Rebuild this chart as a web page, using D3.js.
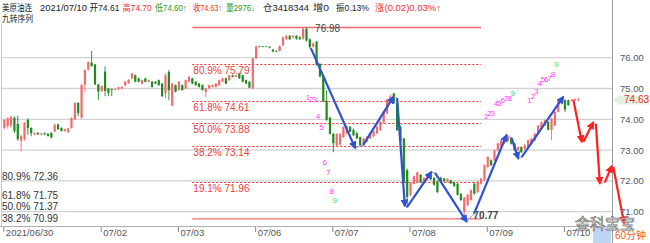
<!DOCTYPE html>
<html>
<head>
<meta charset="utf-8">
<script src="https://cdn.jsdelivr.net/npm/d3@7"></script>
<style>
  body { margin: 0; background: #fff; }
  svg { display: block; font-family: "Liberation Sans", Arial, "Noto Sans CJK SC", sans-serif; }
</style>
</head>
<body>
<div id="chart"></div>
<script>
//// data (60 minute bars)
var opens = [73.72,73.78,73.80,74.05,73.85,73.30,73.36,73.98,73.72,73.52,73.56,73.50,73.55,73.53,73.56,73.60,73.83,73.72,73.62,73.58,
  73.72,74.00,74.53,74.05,75.12,75.62,75.84,75.78,75.13,74.92,75.55,75.00,74.98,74.96,74.98,75.00,75.10,75.18,75.33,75.43,
  75.33,75.16,75.33,75.22,75.22,75.22,75.27,75.16,74.84,75.54,74.45,75.11,74.95,75.11,75.00,75.22,75.33,75.22,75.16,75.11,
  74.89,75.00,75.05,75.05,75.11,75.22,75.33,75.27,75.43,75.38,75.49,75.43,75.27,75.22,75.00,75.98,76.37,76.37,76.37,76.36,
  76.26,76.22,76.22,76.40,76.60,76.71,76.66,76.71,76.66,76.62,76.94,76.60,76.36,76.52,75.80,75.43,74.60,74.05,73.53,73.15,
  73.18,73.42,73.55,73.76,73.66,73.55,73.42,73.15,73.27,73.38,73.45,73.54,73.65,73.90,74.20,74.58,74.84,74.52,73.76,73.38,
  72.35,71.55,71.90,71.95,72.20,71.95,72.05,72.20,72.10,71.98,72.10,72.08,71.97,72.02,71.95,71.90,71.58,71.00,71.22,71.38,
  71.91,71.64,71.91,72.02,72.45,72.67,72.67,73.00,73.12,73.22,73.32,73.40,73.21,72.99,73.10,73.04,73.10,73.21,73.32,73.53,
  73.70,73.80,73.91,73.66,73.80,74.24,74.51,74.62,74.62,74.60,74.62,74.61];
var highs = [74.00,74.06,74.12,74.10,74.12,73.50,73.92,74.04,73.74,73.58,73.58,73.56,73.57,73.56,73.58,73.85,73.86,73.74,73.70,73.72,
  74.06,74.55,74.56,75.14,75.62,75.88,76.22,75.80,75.15,75.10,75.72,75.02,75.00,75.00,75.06,75.07,75.24,75.30,75.51,75.45,
  75.35,75.29,75.35,75.29,75.24,75.24,75.29,75.18,75.49,75.60,75.18,75.13,75.24,75.13,75.29,75.40,75.35,75.24,75.18,75.13,
  75.02,75.13,75.13,75.18,75.29,75.35,75.35,75.45,75.45,75.45,75.51,75.45,75.29,75.24,76.00,76.40,76.39,76.38,76.38,76.37,
  76.28,76.24,76.40,76.70,76.74,76.74,76.74,76.73,76.70,76.98,76.98,76.62,76.50,76.54,75.82,75.45,74.95,74.08,73.56,73.55,
  73.56,73.77,73.80,73.78,73.70,73.58,73.44,73.40,73.46,73.58,73.64,73.80,73.95,74.28,74.66,74.80,74.85,74.54,73.80,73.40,
  72.40,71.96,72.18,72.30,72.22,72.12,72.24,72.24,72.12,72.02,72.14,72.10,72.08,72.04,71.98,71.93,71.60,71.48,71.58,71.72,
  71.95,72.00,72.10,72.53,72.80,72.70,73.02,73.24,73.35,73.44,73.48,73.43,73.24,73.12,73.12,73.20,73.34,73.40,73.56,73.82,
  73.94,73.99,73.94,74.04,74.26,74.64,74.70,74.65,74.64,74.66,74.68,74.70];
var lows = [73.68,73.70,73.72,73.55,73.30,72.96,73.30,73.50,73.45,73.48,73.49,73.47,73.48,73.44,73.38,73.58,73.66,73.60,73.60,73.55,
  73.70,73.98,74.10,74.02,74.90,75.58,75.70,75.12,74.63,74.88,74.75,74.75,74.75,74.94,74.96,74.98,75.08,75.15,75.30,75.20,
  75.20,75.14,75.20,75.20,75.03,75.14,75.09,74.73,74.68,74.62,74.42,74.87,74.93,74.93,74.98,75.20,75.14,75.09,75.03,74.93,
  74.73,74.98,75.03,75.03,75.09,75.20,75.14,75.25,75.36,75.36,75.31,75.20,75.14,75.01,74.98,75.96,76.34,76.35,76.35,76.30,
  76.18,76.18,76.20,76.38,76.58,76.58,76.62,76.58,76.58,76.58,76.52,76.30,76.33,75.74,75.36,74.55,73.95,73.50,72.93,73.10,
  73.14,73.40,73.52,73.58,73.46,73.36,73.12,73.12,73.25,73.36,73.42,73.52,73.62,73.85,74.15,74.55,74.50,73.62,73.22,71.95,
  71.15,71.50,71.88,71.92,71.93,71.92,72.02,72.02,71.85,71.60,71.95,71.97,71.95,71.90,71.80,71.52,71.35,70.77,71.18,71.35,
  71.55,71.60,71.88,72.00,72.40,72.49,72.65,72.95,73.08,73.20,73.28,73.18,72.97,72.96,72.91,73.00,73.08,73.18,73.28,73.50,
  73.68,73.78,73.64,73.32,73.78,74.22,74.48,74.24,74.44,74.58,74.60,74.60];
var closes = [73.98,74.03,74.08,73.62,73.36,73.45,73.88,73.72,73.55,73.56,73.51,73.54,73.51,73.46,73.41,73.83,73.68,73.62,73.68,73.70,
  74.04,74.53,74.20,75.12,75.60,75.86,75.73,75.13,74.90,75.08,74.92,74.86,74.95,74.98,75.04,75.05,75.22,75.28,75.49,75.22,
  75.22,75.27,75.22,75.27,75.05,75.16,75.11,74.75,75.43,74.95,75.16,74.89,75.22,74.95,75.27,75.38,75.16,75.11,75.05,74.95,
  75.00,75.11,75.11,75.16,75.27,75.33,75.16,75.43,75.38,75.43,75.33,75.22,75.16,75.03,75.98,76.36,76.36,76.36,76.36,76.33,
  76.20,76.20,76.38,76.66,76.71,76.60,76.71,76.62,76.60,76.94,76.56,76.34,76.46,75.77,75.39,74.58,73.98,73.53,73.22,73.53,
  73.52,73.75,73.76,73.60,73.48,73.38,73.15,73.38,73.43,73.55,73.60,73.76,73.92,74.25,74.63,74.74,74.52,73.65,73.27,71.97,
  71.48,71.93,72.15,72.28,71.95,72.10,72.22,72.05,71.87,71.64,71.97,71.99,72.06,71.92,71.84,71.55,71.38,71.46,71.55,71.70,
  71.59,71.97,72.08,72.51,72.78,72.51,73.00,73.22,73.32,73.42,73.42,73.21,72.99,73.10,72.93,73.15,73.32,73.37,73.53,73.80,
  73.91,73.97,73.66,74.02,74.24,74.60,74.67,74.32,74.46,74.64,74.66,74.63];

// date ticks
var tickIdx = [0, 29, 52, 75, 98, 121, 144, 167];
var tickLabels = ["2021/06/30", "07/02", "07/03", "07/06", "07/07", "07/08", "07/09", "07/10"];
var priceTicks = [71, 72, 73, 74, 75, 76];

// fibonacci from 76.98 down to 70.77
var fibHigh = 76.98, fibLow = 70.77;
var fibFrom = 56, fibTo = 142;
var fibPcts = ["80.9%", "61.8%", "50.0%", "38.2%", "19.1%"];
var fibLevels = [75.79, 74.61, 73.88, 73.14, 71.96];
var oldFibPcts = ["80.9%", "61.8%", "50.0%", "38.2%"];
var oldFibLevels = [72.36, 71.75, 71.37, 70.99];

// wave strokes [fromBar, fromPrice, toBar, toPrice]
var blueWave = [
  [91.3, 76.31, 104.5, 73.07],
  [106.9, 73.17, 115.9, 74.73],
  [117.0, 74.69, 119.3, 71.19],
  [119.9, 71.14, 127.2, 72.29],
  [128.3, 72.26, 137.7, 70.68],
  [139.9, 70.93, 149.6, 73.49],
  [151.1, 73.39, 153.1, 72.73],
  [154.1, 72.77, 166.5, 74.73]
];
var redWave = [
  [169.5, 74.63, 172.0, 73.27],
  [172.5, 73.27, 175.4, 73.90],
  [176.2, 73.85, 177.4, 71.92],
  [178.9, 71.95, 180.9, 72.48],
  [181.4, 72.45, 184.6, 70.63]
];

// nine-turn sequence (start bar, label levels)
var seqStarts = [90, 143, 156];
var seqLevels = [
  [74.71, 74.65, 74.67, 74.12, 73.74, 72.62, 72.28, 71.68, 71.38],
  [74.11, 74.21, 74.21, 74.52, 74.54, 74.63, 74.68, 74.68, 74.84],
  [74.63, 74.77, 74.92, 75.17, 75.31, 75.32, 75.34, 75.47, 75.80]
];

// header pieces: text, arrow, left, width, colour, arrow colour
var header = [
  ["美原油连", "", 2, 30, "#222", ""],
  ["2021/07/10", "", 40, 47, "#222", ""],
  ["开74.61", "", 89.5, 30, "#222", ""],
  ["高74.70", "", 122.5, 29, "#e83030", ""],
  ["低74.60", "↑", 155, 32, "#1f9a1f", "#e83030"],
  ["收74.63↑", "", 193, 29, "#e83030", ""],
  ["量2976↓", "", 226, 29, "#1f9a1f", ""],
  ["仓3418344", "", 263, 46, "#222", ""],
  ["增0", "", 313, 16, "#222", ""],
  ["振0.13%", "", 336, 33, "#222", ""],
  ["涨(0.02)0.03%↑", "", 375, 66, "#e83030", ""]
];
var footer = [
  ["VOL:2976", 3, "#555"],
  ["MA5:3011", 70, "#3344cc"],
  ["MA10:3425", 122, "#e83030"],
  ["OPI:34183", 173, "#555"],
  ["M1:74", 227, "#e83030"],
  ["M2:74", 253, "#1f9a1f"],
  ["M3:73", 278, "#22c0d0"],
  ["M4:73", 299, "#ff40ff"]
];

//// chart
var width = 650, height = 243, plotRight = 612;

var svg = d3.select("#chart")
  .append("svg")
    .attr("width", width)
    .attr("height", height);

var x = d3.scaleLinear().domain([0, 171]).range([4.35, 578.4]);
var y = d3.scaleLinear().domain([70, 77]).range([242.5, 26.9]);

var bars = closes.map(function(c, i) {
  return {i: i, o: opens[i], h: highs[i], l: lows[i], c: c};
});

// grid
svg.selectAll(".grid")
    .data(priceTicks)
  .enter().append("line")
    .attr("x1", 1).attr("x2", plotRight)
    .attr("y1", function(d) { return y(d); })
    .attr("y2", function(d) { return y(d); })
    .style("stroke", "#d2d2d2")
    .style("stroke-width", 1.3);

// borders
svg.append("line").attr("x1", 1.5).attr("x2", 1.5).attr("y1", 24).attr("y2", 227)
  .style("stroke", "#c8c8c8");
svg.append("line").attr("x1", plotRight + 0.5).attr("x2", plotRight + 0.5).attr("y1", 0).attr("y2", height)
  .style("stroke", "#9a9a9a");

// fib solid lines
svg.selectAll(".fibend")
    .data([fibHigh, fibLow])
  .enter().append("line")
    .attr("x1", x(fibFrom)).attr("x2", x(fibTo))
    .attr("y1", function(d) { return y(d); })
    .attr("y2", function(d) { return y(d); })
    .style("stroke", "#f06a6a")
    .style("stroke-width", 1.3);

// fib dashed lines + labels
svg.selectAll(".fib")
    .data(fibLevels)
  .enter().append("line")
    .attr("x1", x(fibFrom)).attr("x2", x(fibTo))
    .attr("y1", function(d) { return Math.round(y(d)) + 0.5; })
    .attr("y2", function(d) { return Math.round(y(d)) + 0.5; })
    .style("stroke", "#f03030")
    .style("stroke-dasharray", "2,2")
    .style("stroke-width", 1);

svg.selectAll(".fibtxt")
    .data(fibLevels)
  .enter().append("text")
    .attr("x", x(fibFrom) + 1)
    .attr("y", function(d) { return y(d) + 10; })
    .style("font-size", "10px")
    .style("fill", "#f04040")
    .text(function(d, i) { return fibPcts[i] + " " + d.toFixed(2); });

svg.selectAll(".oldfib")
    .data(oldFibLevels)
  .enter().append("text")
    .attr("x", 2)
    .attr("y", function(d) { return y(d) + 10; })
    .style("font-size", "10px")
    .style("fill", "#333")
    .text(function(d, i) { return oldFibPcts[i] + " " + d.toFixed(2); });

svg.append("text")
  .attr("x", x(89) + 12).attr("y", y(fibHigh) + 4)
  .style("font-size", "10px").style("fill", "#444")
  .text(fibHigh.toFixed(2));

svg.append("text")
  .attr("x", x(140) - 1).attr("y", y(fibLow) + 0.5)
  .style("font-size", "10px").style("font-weight", "bold").style("fill", "#444")
  .text(fibLow.toFixed(2));

// candles
var up = "#f46a6a", down = "#1f8a1f";
var candle = svg.selectAll(".bar")
    .data(bars)
  .enter().append("g");

candle.append("line")
  .attr("x1", function(d) { return x(d.i); })
  .attr("x2", function(d) { return x(d.i); })
  .attr("y1", function(d) { return y(d.h); })
  .attr("y2", function(d) { return y(d.l); })
  .style("stroke", function(d) { return d.c >= d.o ? up : down; })
  .style("stroke-width", 0.9);

candle.append("rect")
  .attr("x", function(d) { return x(d.i) - 1.1; })
  .attr("width", 2.2)
  .attr("y", function(d) { return y(Math.max(d.o, d.c)); })
  .attr("height", function(d) { return Math.max(0.8, Math.abs(y(d.o) - y(d.c))); })
  .style("fill", function(d) { return d.c >= d.o ? up : down; });

// arrow markers
var defs = svg.append("defs");
[["blueHead", "#2f52d2"], ["redHead", "#ff1f1f"]].forEach(function(m) {
  defs.append("marker")
      .attr("id", m[0])
      .attr("viewBox", "0 0 10 10")
      .attr("refX", 8).attr("refY", 5)
      .attr("markerUnits", "userSpaceOnUse")
      .attr("markerWidth", 8).attr("markerHeight", 8)
      .attr("orient", "auto")
    .append("path")
      .attr("d", "M0,0 L10,5 L0,10 z")
      .style("fill", m[1]);
});

function drawWave(wave, thick, thin, head) {
  // thin connectors between strokes
  svg.selectAll(null)
      .data(wave.slice(1))
    .enter().append("line")
      .attr("x1", function(d, i) { return x(wave[i][2]); })
      .attr("y1", function(d, i) { return y(wave[i][3]); })
      .attr("x2", function(d) { return x(d[0]); })
      .attr("y2", function(d) { return y(d[1]); })
      .style("stroke", thin)
      .style("stroke-width", 1);
  svg.selectAll(null)
      .data(wave)
    .enter().append("line")
      .attr("x1", function(d) { return x(d[0]); })
      .attr("y1", function(d) { return y(d[1]); })
      .attr("x2", function(d) { return x(d[2]); })
      .attr("y2", function(d) { return y(d[3]); })
      .attr("marker-end", "url(#" + head + ")")
      .style("stroke", thick)
      .style("stroke-width", 2.2);
}
drawWave(blueWave, "#2f52d2", "#8ea2e8", "blueHead");
drawWave(redWave, "#ff1f1f", "#ff9c9c", "redHead");

// nine-turn numbers
seqStarts.forEach(function(s, k) {
  svg.selectAll(null)
      .data(seqLevels[k])
    .enter().append("text")
      .attr("x", function(d, i) { return x(s + i) + 1.5; })
      .attr("y", function(d) { return y(d) + 3; })
      .attr("text-anchor", "middle")
      .style("font-size", "8px")
      .style("fill", function(d, i) { return i === 8 ? "#3fe03f" : "#ff3cff"; })
      .text(function(d, i) { return i + 1; });
});

// price axis
svg.selectAll(".ylab")
    .data(priceTicks)
  .enter().append("text")
    .attr("x", 620)
    .attr("y", function(d) { return y(d) + 3.5; })
    .style("font-size", "9.5px")
    .style("fill", "#555")
    .text(function(d) { return d.toFixed(2); });

var last = closes[closes.length - 1];
var ly = y(last);
svg.append("path")
  .attr("d", "M613," + ly + " L619," + (ly - 4.5) + " L650," + (ly - 4.5) + " L650," + (ly + 4.5) + " L619," + (ly + 4.5) + " Z")
  .style("fill", "#e3f1e3");
svg.append("text")
  .attr("x", 624).attr("y", ly + 3.5)
  .style("font-size", "10px").style("fill", "#ee2a2a")
  .text(last.toFixed(2));

// time axis
svg.append("line").attr("x1", 0).attr("x2", plotRight).attr("y1", 226.5).attr("y2", 226.5)
  .style("stroke", "#b0b0b0");
svg.append("rect").attr("x", 593).attr("y", 227).attr("width", 18).attr("height", 16)
  .style("fill", "#bcd5f1");

svg.selectAll(".xtick")
    .data(tickIdx)
  .enter().append("line")
    .attr("x1", function(d) { return x(d) - 0.5; })
    .attr("x2", function(d) { return x(d) - 0.5; })
    .attr("y1", 227).attr("y2", 232)
    .style("stroke", "#888");

svg.selectAll(".xlab")
    .data(tickIdx)
  .enter().append("text")
    .attr("x", function(d) { return x(d) + 1.5; })
    .attr("y", 236)
    .style("font-size", "9.5px")
    .style("fill", "#555")
    .text(function(d, i) { return tickLabels[i]; });

// watermark + period
svg.append("text")
  .attr("x", 575).attr("y", 228.5)
  .style("font-size", "15px")
  .style("font-family", "Noto Sans CJK SC")
  .style("fill", "#fff").style("stroke", "#777").style("stroke-width", 0.7)
  .text("金科宝宝");

svg.append("text")
  .attr("x", 615).attr("y", 239)
  .style("font-size", "10px")
  .style("fill", "#ff5a1a")
  .text("60分钟");

// header
var hdr = svg.selectAll(".hdr")
    .data(header)
  .enter().append("text")
    .attr("x", function(d) { return d[2]; })
    .attr("y", 10.5)
    .attr("textLength", function(d) { return d[3]; })
    .attr("lengthAdjust", "spacingAndGlyphs")
    .style("font-size", "9px");
hdr.append("tspan")
  .style("fill", function(d) { return d[4]; })
  .text(function(d) { return d[0]; });
hdr.filter(function(d) { return d[1]; })
  .append("tspan")
  .style("fill", function(d) { return d[5]; })
  .text(function(d) { return d[1]; });

svg.append("text")
  .attr("x", 2).attr("y", 21.5)
  .attr("textLength", 31)
  .attr("lengthAdjust", "spacingAndGlyphs")
  .style("font-size", "8.6px").style("fill", "#222")
  .text("九转序列");

// bottom legend row (mostly cut off)
svg.selectAll(".ftr")
    .data(footer)
  .enter().append("text")
    .attr("x", function(d) { return d[1]; })
    .attr("y", 249)
    .style("font-size", "8px")
    .style("fill", function(d) { return d[2]; })
    .text(function(d) { return d[0]; });
</script>
</body>
</html>
